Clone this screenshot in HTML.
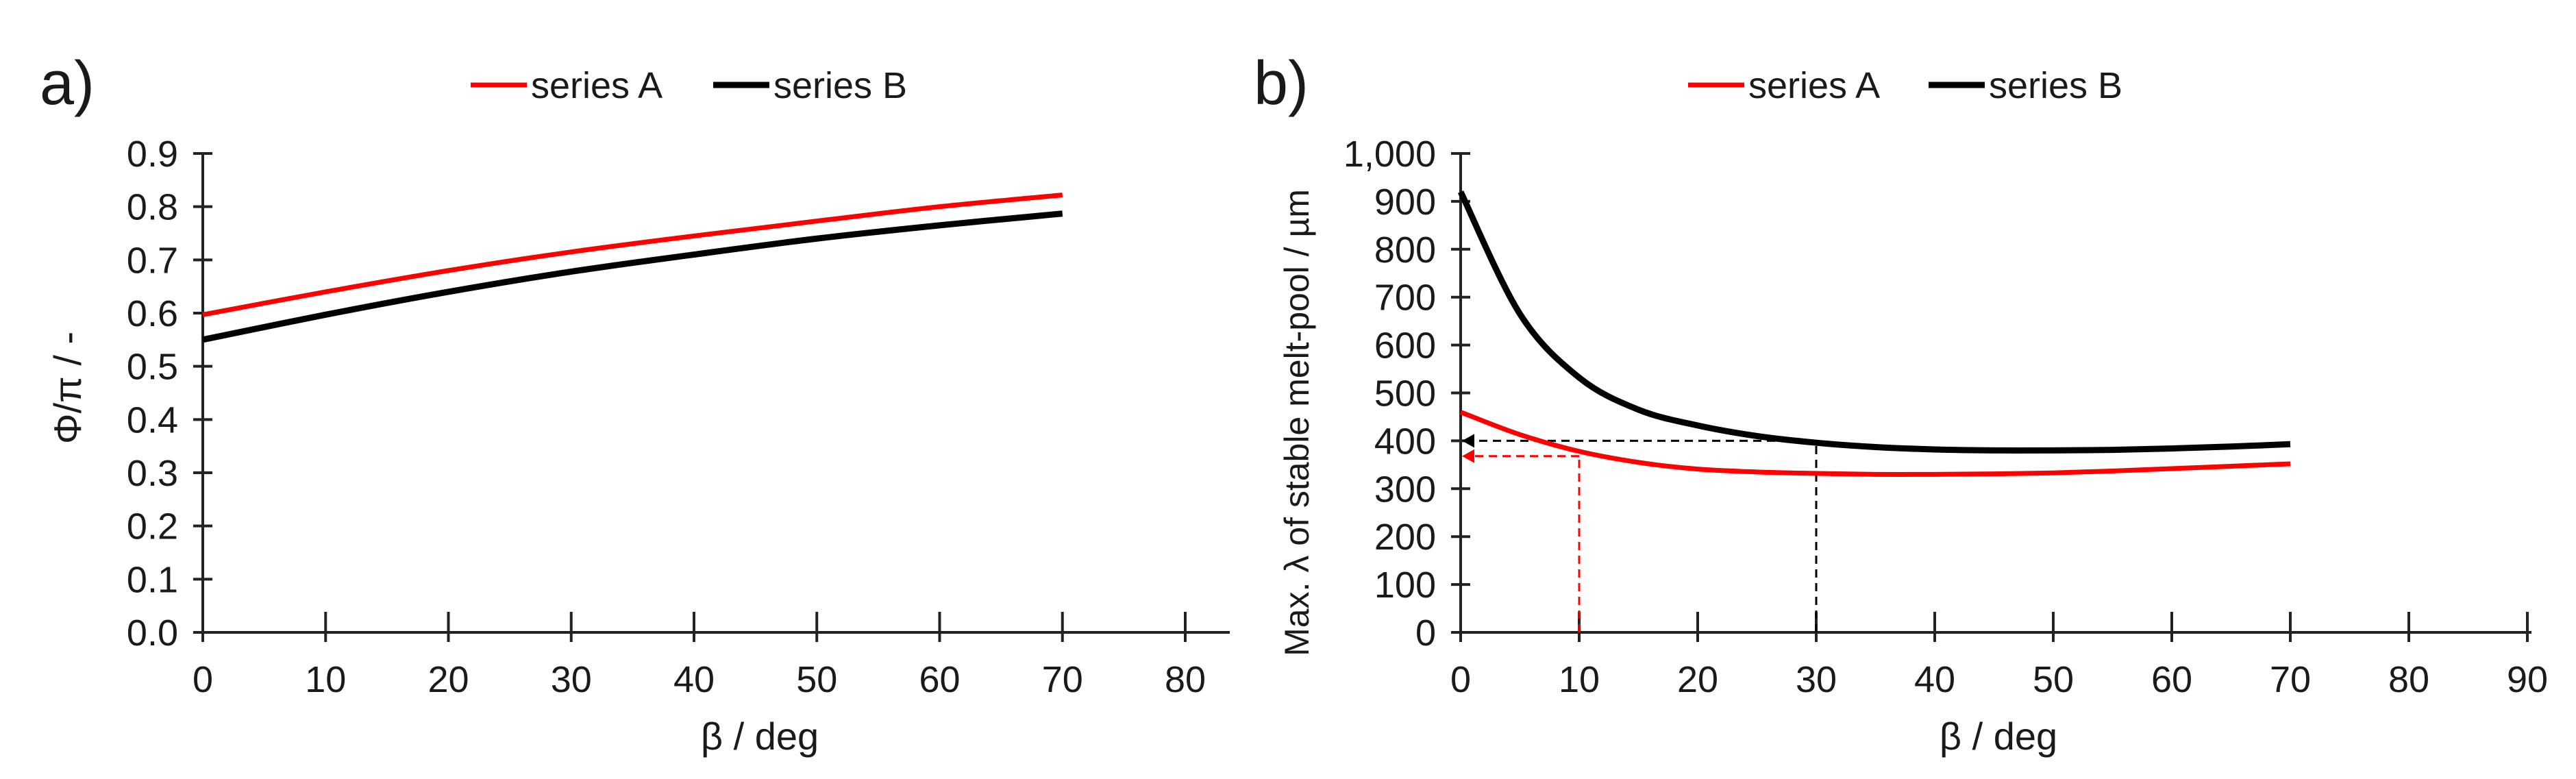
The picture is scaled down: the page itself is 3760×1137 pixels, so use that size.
<!DOCTYPE html>
<html><head><meta charset="utf-8"><style>
html,body{margin:0;padding:0;background:#fff;}
svg text{font-family:"Liberation Sans",sans-serif;fill:#1a1a1a;}
</style></head><body>
<svg id="chart" width="3760" height="1132" xmlns="http://www.w3.org/2000/svg"></svg>
<script>
const xTicksA = [0,10,20,30,40,50,60,70,80];
const yTicksA = [0.0,0.1,0.2,0.3,0.4,0.5,0.6,0.7,0.8,0.9];
const xA = [0,10,20,30,40,50,60,70];
const aSeriesA = [0.597,0.640,0.680,0.715,0.745,0.773,0.800,0.822];
const aSeriesB = [0.550,0.597,0.640,0.678,0.710,0.740,0.765,0.787];
const xTicksB = [0,10,20,30,40,50,60,70,80,90];
const yTicksB = [0,100,200,300,400,500,600,700,800,900,1000];
const yTickLabelsB = ["0","100","200","300","400","500","600","700","800","900","1,000"];
const xB_B = [0,5,10,15,20,25,30,35,40,45,50,55,60,65,70];
const bSeriesB = [920,665,532,465,432,410,396,387,382,380,380,381,384,388,393];
const xB_A = [0,5,10,15,20,25,30,35,40,45,50,55,60,65,70];
const bSeriesA = [460,413,378,355,341,335,332,330,330,331,333,337,342,347,352];
const guideBlack = [30,400];
const guideRed = [10,368];

const NS="http://www.w3.org/2000/svg";
const svg=document.getElementById('chart');
function mk(tag,attrs,parent){const e=document.createElementNS(NS,tag);for(const k in attrs)e.setAttribute(k,attrs[k]);(parent||svg).appendChild(e);return e;}
function smooth(pts){let d=`M${pts[0][0]},${pts[0][1]}`;for(let i=0;i<pts.length-1;i++){const p0=pts[Math.max(0,i-1)],p1=pts[i],p2=pts[i+1],p3=pts[Math.min(pts.length-1,i+2)];const c1x=p1[0]+(p2[0]-p0[0])/6,c1y=p1[1]+(p2[1]-p0[1])/6,c2x=p2[0]-(p3[0]-p1[0])/6,c2y=p2[1]-(p3[1]-p1[1])/6;d+=` C${c1x},${c1y} ${c2x},${c2y} ${p2[0]},${p2[1]}`;}return d;}

function panel(cfg){
  const g=mk('g',{});
  
  
  const sx=v=>cfg.x0+(v-cfg.xmin)/(cfg.xmax-cfg.xmin)*(cfg.x1-cfg.x0);
  const sy=v=>cfg.y0-(v-cfg.ymin)/(cfg.ymax-cfg.ymin)*(cfg.y0-cfg.y1);
  const ya=mk('line',{x1:cfg.x0,y1:cfg.y0,x2:cfg.x0,y2:cfg.y1,stroke:'#222','stroke-width':4},g);
  
  const xa=mk('line',{x1:cfg.x0-10,y1:cfg.y0,x2:cfg.xend,y2:cfg.y0,stroke:'#222','stroke-width':4},g);
  
  cfg.yt.forEach((v,i)=>{const y=sy(v);
    mk('line',{x1:cfg.x0-14,y1:y,x2:cfg.x0+14,y2:y,stroke:'#222','stroke-width':4},g);
    const t=mk('text',{x:cfg.x0-36,y:y+19,'text-anchor':'end','font-size':54},g);t.textContent=cfg.ytl[i];
    });
  cfg.xt.forEach(v=>{const x=sx(v);
    mk('line',{x1:x,y1:cfg.y0-30,x2:x,y2:cfg.y0+14,stroke:'#222','stroke-width':4},g);
    const t=mk('text',{x:x,y:1010,'text-anchor':'middle','font-size':54},g);t.textContent=String(v);
    });
  const xt=mk('text',{x:cfg.xtitle,y:1094,'text-anchor':'middle','font-size':56},g);xt.textContent='β / deg';
  
  const yt=mk('text',{x:0,y:0,'text-anchor':'middle','font-size':cfg.ytfs,transform:`translate(${cfg.ytx},${cfg.yty}) rotate(-90)`},g);yt.textContent=cfg.ytitle;
  
  const lab=mk('text',{x:cfg.labx,y:152,'font-size':90},g);lab.textContent=cfg.label;
  
  [[cfg.legA,'#f00',7,'series A'],[cfg.legB,'#000',9,'series B']].forEach(([lx,c,w,txt])=>{
    const lg=mk('g',{},g);
    mk('line',{x1:lx,y1:124,x2:lx+82,y2:124,stroke:c,'stroke-width':w},lg);
    const t=mk('text',{x:lx+88,y:143,'font-size':54},lg);t.textContent=txt;});
  return {g,sx,sy};
}

const pa=panel({name:'panel-a',x0:296,x1:1730,xmin:0,xmax:80,xend:1795,y0:923,y1:224,ymin:0,ymax:0.9,
  xt:xTicksA,yt:yTicksA,ytl:yTicksA.map(v=>v.toFixed(1)),xtitle:1109,ytx:118,yty:566,ytitle:'Φ/π / -',ytfs:56,
  labx:58,label:'a)',legA:687,legB:1041});
const lA=mk('path',{d:smooth(xA.map((x,i)=>[pa.sx(x),pa.sy(aSeriesA[i])])),fill:'none',stroke:'#f00','stroke-width':7},pa.g);

const lB=mk('path',{d:smooth(xA.map((x,i)=>[pa.sx(x),pa.sy(aSeriesB[i])])),fill:'none',stroke:'#000','stroke-width':9},pa.g);


const pb=panel({name:'panel-b',x0:2132,x1:3689,xmin:0,xmax:90,xend:3695,y0:923,y1:224,ymin:0,ymax:1000,
  xt:xTicksB,yt:yTicksB,ytl:yTickLabelsB,xtitle:2917,ytx:1910,yty:617,ytitle:'Max. λ of stable melt-pool / µm',ytfs:50,
  labx:1830,label:'b)',legA:2464,legB:2815});
function guide(pt,c,name){
  const gg=mk('g',{},pb.g);
  const x=pb.sx(pt[0]),y=pb.sy(pt[1]),x0=pb.sx(0),y0=pb.sy(0);
  mk('line',{x1:x,y1:y0,x2:x,y2:y,stroke:c,'stroke-width':3,'stroke-dasharray':'12,8'},gg);
  mk('line',{x1:x,y1:y,x2:x0+16,y2:y,stroke:c,'stroke-width':3,'stroke-dasharray':'12,8'},gg);
  mk('polygon',{points:`${x0+2},${y} ${x0+20},${y-10} ${x0+20},${y+10}`,fill:c},gg);
}
guide(guideBlack,'#000','guide-series-b');
guide(guideRed,'#f00','guide-series-a');
const bA=mk('path',{d:smooth(xB_A.map((x,i)=>[pb.sx(x),pb.sy(bSeriesA[i])])),fill:'none',stroke:'#f00','stroke-width':7},pb.g);

const bB=mk('path',{d:smooth(xB_B.map((x,i)=>[pb.sx(x),pb.sy(bSeriesB[i])])),fill:'none',stroke:'#000','stroke-width':9},pb.g);

</script>
</body></html>
